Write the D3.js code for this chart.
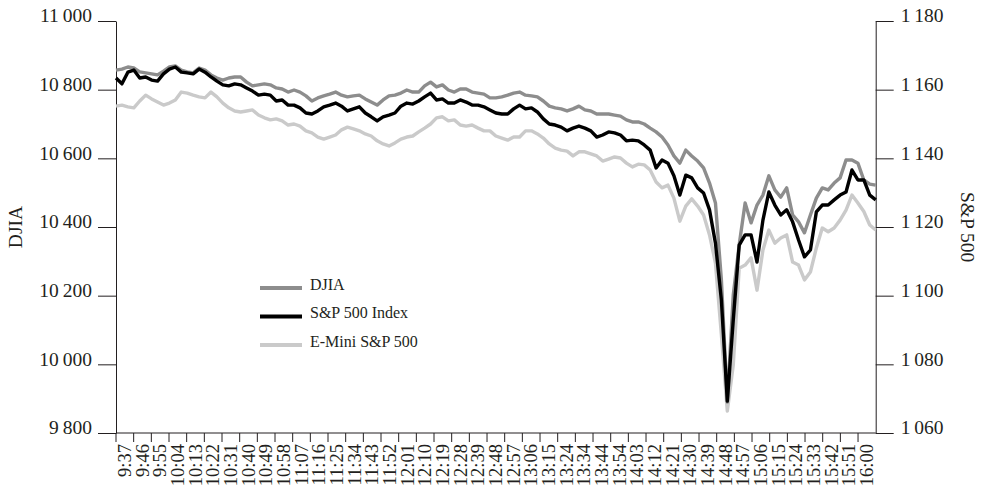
<!DOCTYPE html>
<html lang="en">
<head>
<meta charset="UTF-8">
<title>DJIA and S&amp;P 500</title>
<script src="https://cdnjs.cloudflare.com/ajax/libs/d3/7.8.5/d3.min.js"></script>
<style>
  body { margin: 0; background: #fff; }
  svg text { font-family: "Liberation Serif", "Times New Roman", serif; fill: #231f20; }
  .axis path, .axis line { stroke: #231f20; stroke-width: 1; }
  .line { fill: none; stroke-width: 3.4; stroke-linejoin: round; }
</style>
</head>
<body>
<svg id="chart" width="990" height="488"></svg>
<script>
// time labels, one per 9-minute band
const timeLabels = ["9:37","9:46","9:55","10:04","10:13","10:22","10:31","10:40","10:49","10:58",
  "11:07","11:16","11:25","11:34","11:43","11:52","12:01","12:10","12:19","12:28","12:39",
  "12:48","12:57","13:06","13:15","13:24","13:34","13:44","13:54","14:03","14:12","14:21",
  "14:30","14:39","14:48","14:57","15:06","15:15","15:24","15:33","15:42","15:51","16:00"];

// three readings per band
const djia = [10857,10860,10866,10863,10852,10849,10846,10843,10854,10866,
  10869,10857,10852,10849,10863,10857,10843,10834,10828,10834,
  10837,10837,10822,10811,10814,10817,10814,10805,10802,10793,
  10799,10793,10782,10767,10776,10782,10787,10793,10784,10779,
  10782,10784,10773,10764,10755,10770,10782,10784,10790,10799,
  10793,10793,10811,10822,10808,10814,10799,10793,10802,10802,
  10793,10790,10787,10776,10776,10779,10784,10790,10793,10784,
  10782,10779,10767,10752,10747,10744,10738,10744,10752,10741,
  10738,10729,10729,10729,10726,10723,10712,10706,10706,10700,
  10688,10677,10662,10639,10607,10586,10624,10607,10592,10572,
  10528,10470,10246,9890,10202,10348,10470,10412,10464,10493,
  10549,10508,10487,10514,10435,10415,10383,10435,10484,10514,
  10508,10528,10543,10595,10595,10586,10537,10525,10522];

const sp500 = [1163.4,1161.7,1165.1,1165.7,1163.4,1163.7,1162.8,1162.5,1164.6,1166.0,
  1166.6,1165.1,1164.9,1164.6,1166.0,1165.1,1163.7,1162.5,1161.4,1161.1,
  1161.7,1161.4,1160.5,1159.6,1158.4,1158.7,1158.4,1156.7,1157.0,1155.5,
  1155.5,1154.7,1153.2,1152.9,1153.8,1155.0,1155.5,1156.1,1155.2,1153.8,
  1154.4,1155.0,1153.2,1152.1,1150.9,1152.1,1152.6,1153.2,1155.2,1156.1,
  1155.8,1156.7,1157.9,1159.0,1157.0,1157.3,1156.1,1156.1,1157.0,1156.4,
  1155.5,1155.5,1155.0,1154.1,1153.2,1152.9,1152.9,1154.4,1155.5,1154.4,
  1154.7,1153.5,1151.5,1150.0,1149.7,1149.1,1148.0,1148.8,1149.4,1148.8,
  1148.0,1146.2,1146.8,1147.7,1147.4,1146.8,1145.1,1145.3,1145.1,1143.9,
  1142.4,1137.2,1139.5,1138.6,1134.9,1129.3,1135.1,1134.3,1131.4,1129.9,
  1125.0,1115.3,1098.7,1069.3,1092.9,1114.7,1117.7,1117.7,1109.8,1122.0,
  1130.2,1126.4,1123.5,1125.0,1121.5,1116.2,1111.3,1113.3,1124.4,1126.4,
  1126.4,1127.9,1129.3,1130.2,1136.6,1133.7,1133.7,1129.3,1127.9];

const emini = [1155.2,1155.5,1155.0,1154.7,1156.7,1158.4,1157.3,1156.4,1155.5,1156.1,
  1157.0,1159.3,1159.0,1158.4,1157.9,1157.6,1159.3,1157.9,1156.1,1154.7,
  1153.8,1153.5,1153.8,1154.1,1152.6,1151.8,1151.2,1151.5,1150.9,1149.7,
  1150.0,1149.4,1148.0,1147.4,1146.2,1145.6,1146.2,1146.8,1148.3,1149.1,
  1148.6,1148.0,1147.1,1146.5,1145.1,1144.2,1143.6,1144.5,1145.6,1146.2,
  1146.5,1147.7,1148.8,1150.0,1151.8,1152.1,1150.9,1151.2,1149.7,1149.4,
  1149.7,1148.8,1148.0,1148.0,1146.5,1145.9,1145.3,1146.2,1146.2,1148.0,
  1148.0,1147.1,1145.9,1144.2,1143.0,1142.4,1142.1,1140.7,1141.9,1141.9,
  1141.3,1140.7,1139.2,1139.8,1140.4,1140.1,1138.6,1137.5,1138.3,1138.1,
  1136.6,1133.1,1131.4,1132.2,1128.4,1121.7,1126.1,1128.2,1126.1,1123.5,
  1117.7,1109.5,1088.6,1066.4,1079.8,1108.0,1108.9,1111.0,1101.6,1113.3,
  1119.1,1115.3,1116.8,1117.7,1109.8,1108.9,1104.6,1106.9,1113.9,1119.7,
  1118.6,1119.7,1122.0,1124.9,1129.3,1127.0,1124.5,1120.6,1119.1];

const djiaTicks = [9800, 10000, 10200, 10400, 10600, 10800, 11000];
const spTicks = [1060, 1080, 1100, 1120, 1140, 1160, 1180];

const svg = d3.select('#chart');
const plotLeft = 116, plotRight = 875.7, plotTop = 21, plotBottom = 433;

const fmt = d3.formatLocale({decimal: '.', thousands: '\u2009', grouping: [3], currency: ['', '']}).format(',');

const xBand = d3.scaleBand().domain(timeLabels).range([plotLeft, plotRight]);
const x = d3.scaleLinear().domain([0, djia.length - 1]).range([plotLeft, plotRight]);
const yL = d3.scaleLinear().domain([9800, 11000]).range([plotBottom, plotTop]);
const yR = d3.scaleLinear().domain([1060, 1180]).range([plotBottom, plotTop]);

// left axis
const gL = svg.append('g').attr('class', 'axis')
  .attr('transform', `translate(${plotLeft},0)`)
  .call(d3.axisLeft(yL).tickValues(djiaTicks).tickFormat(fmt).tickSize(18).tickSizeOuter(0).tickPadding(6));
gL.selectAll('text').attr('font-size', 19.5).attr('dy', '0.05em');

// right axis
const gR = svg.append('g').attr('class', 'axis')
  .attr('transform', `translate(${plotRight},0)`)
  .call(d3.axisRight(yR).tickValues(spTicks).tickFormat(fmt).tickSize(18).tickSizeOuter(0).tickPadding(7));
gR.selectAll('text').attr('font-size', 19.5).attr('dy', '0.05em');
svg.selectAll('.axis').attr('font-family', null);

// bottom axis: ticks between bands, labels at band centres
const gX = svg.append('g').attr('class', 'axis');
gX.append('line').attr('x1', plotLeft).attr('x2', plotRight).attr('y1', plotBottom).attr('y2', plotBottom);
gX.selectAll('line.tick').data(timeLabels).join('line')
  .attr('class', 'tick')
  .attr('x1', d => xBand(d)).attr('x2', d => xBand(d))
  .attr('y1', plotBottom).attr('y2', plotBottom + 9);
gX.selectAll('text').data(timeLabels).join('text')
  .attr('transform', d => `translate(${xBand(d) + xBand.bandwidth() / 2},${plotBottom + 11}) rotate(-90)`)
  .attr('text-anchor', 'end')
  .attr('dy', '0.34em')
  .attr('font-size', 18.5)
  .text(d => d);

// axis titles
svg.append('text')
  .attr('transform', `translate(22,${(plotTop + plotBottom) / 2}) rotate(-90)`)
  .attr('text-anchor', 'middle')
  .attr('font-size', 19.5)
  .text('DJIA');
svg.append('text')
  .attr('transform', `translate(961,${(plotTop + plotBottom) / 2}) rotate(90)`)
  .attr('text-anchor', 'middle')
  .attr('font-size', 19.5)
  .text('S&P 500');

// lines
const series = [
  {name: 'E-Mini S&P 500', values: emini, y: yR, color: '#cacaca'},
  {name: 'DJIA', values: djia, y: yL, color: '#8d8d8d'},
  {name: 'S&P 500 Index', values: sp500, y: yR, color: '#000000'}
];
series.forEach(s => {
  const line = d3.line().x((d, i) => x(i)).y(d => s.y(d));
  svg.append('path').attr('class', 'line')
    .attr('d', line(s.values))
    .attr('stroke', s.color);
});

// legend
const legendItems = [series[1], series[2], series[0]];
const lg = svg.append('g').attr('transform', 'translate(260,288)');
legendItems.forEach((s, i) => {
  lg.append('line')
    .attr('x1', 0).attr('x2', 42)
    .attr('y1', i * 28.5).attr('y2', i * 28.5)
    .attr('stroke', s.color).attr('stroke-width', 4);
  lg.append('text')
    .attr('x', 50).attr('y', i * 28.5)
    .attr('dy', '0.1em')
    .attr('font-size', 16)
    .text(s.name);
});
</script>
</body>
</html>
